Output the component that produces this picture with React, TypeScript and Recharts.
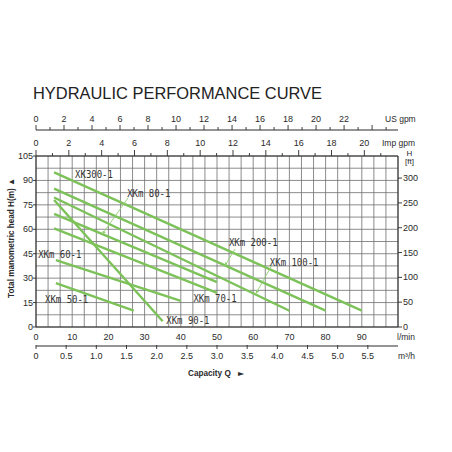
import React from 'react';
import { LineChart, Line, XAxis, YAxis, CartesianGrid, ReferenceLine, ReferenceDot } from 'recharts';

// ---- series (capacity Q in l/min, head H in m) ----
const seriesNames = ['XK300-1', 'XKm 200-1', 'XKm 100-1', 'XKm 90-1', 'XKm 80-1', 'XKm 70-1', 'XKm 60-1', 'XKm 50-1'];
const flowStart = [5, 5, 5, 5, 5, 5, 5.5, 5.5];
const headStart = [95, 85, 79.5, 78, 69.5, 60.5, 41, 27];
const flowEnd = [90, 80, 70, 35, 50, 50, 40, 27];
const headEnd = [10, 10, 10, 3.5, 27.5, 21, 16, 10];

// ---- series name annotations (data coords) ----
const labelQ = [10.8, 53.3, 64.6, 36, 25.2, 43.5, 0.6, 2.5];
const labelH = [93.4, 51.9, 39.9, 4, 81.9, 17.5, 44.6, 17];

// ---- leader lines ----
const leaderQ1 = [55, 65.1, 25.5];
const leaderH1 = [47.9, 37.7, 79.5];
const leaderQ2 = [52.2, 60.8, 18.4];
const leaderH2 = [37.7, 20.8, 57.2];

// ---- axes ----
const lminTicks = [0, 10, 20, 30, 40, 50, 60, 70, 80, 90];
const m3hTicks = [0, 0.5, 1, 1.5, 2, 2.5, 3, 3.5, 4, 4.5, 5, 5.5];
const usTicks = [0, 1, 2, 3, 4, 5, 6, 7, 8, 9, 10, 11, 12, 13, 14, 15, 16, 17, 18, 19, 20, 21, 22, 23, 24, 25];
const usLabelMax = 22;
const impTicks = [0, 1, 2, 3, 4, 5, 6, 7, 8, 9, 10, 11, 12, 13, 14, 15, 16, 17, 18, 19, 20, 21];
const impLabelMax = 20;
const headTicks = [0, 15, 30, 45, 60, 75, 90, 105];
const ftTicks = [0, 50, 100, 150, 200, 250, 300];
const gridQ = [0, 0.2, 0.4, 0.6, 0.8, 1, 1.2, 1.4, 1.6, 1.8, 2, 2.2, 2.4, 2.6, 2.8, 3, 3.2, 3.4, 3.6, 3.8, 4, 4.2, 4.4, 4.6, 4.8, 5, 5.2, 5.4, 5.6, 5.8, 6];
const gridH = [0, 7.5, 15, 22.5, 30, 37.5, 45, 52.5, 60, 67.5, 75, 82.5, 90, 97.5, 105];

const seriesData = seriesNames.map((_, i) => [
  { q: flowStart[i], h: headStart[i] },
  { q: flowEnd[i], h: headEnd[i] },
]);

const GREEN = '#7cc259';
const INK = '#2a2a2a';
const FONT = '"Liberation Sans", Arial, sans-serif';

const isMajor = (v: number, step: number) => Math.abs(v / step - Math.round(v / step)) < 1e-6;

const topTick = (step: number, labelMax: number, majorLen: number, minorLen: number, labelOff: number) => (p: any) => {
  const { x, y, payload } = p;
  const v = payload.value;
  const maj = isMajor(v, step);
  return (
    <g>
      <line x1={x} x2={x} y1={y} y2={y - (maj ? majorLen : minorLen)} stroke={INK} strokeWidth={0.9} />
      {maj && v <= labelMax && (
        <text x={x} y={y - labelOff} textAnchor="middle" dominantBaseline="central" fontSize={9} fontFamily={FONT} fill={INK}>
          {v}
        </text>
      )}
    </g>
  );
};

const LminTick = (p: any) => (
  <text x={p.x} y={p.y + 10} textAnchor="middle" dominantBaseline="central" fontSize={9} fontFamily={FONT} fill={INK}>
    {p.payload.value}
  </text>
);

const M3hTick = (p: any) => {
  const v = p.payload.value;
  return (
    <g>
      <line x1={p.x} x2={p.x} y1={p.y - 1} y2={p.y + 3} stroke={INK} strokeWidth={0.9} />
      <text x={p.x} y={p.y + 10} textAnchor="middle" dominantBaseline="central" fontSize={9} fontFamily={FONT} fill={INK}>
        {v === 0 ? '0' : v.toFixed(1)}
      </text>
    </g>
  );
};

const LeftTick = (p: any) => (
  <g>
    <line x1={p.x} x2={p.x - 3} y1={p.y} y2={p.y} stroke={INK} strokeWidth={0.9} />
    <text x={p.x - 3} y={p.y} textAnchor="end" dominantBaseline="central" fontSize={9} fontFamily={FONT} fill={INK}>
      {p.payload.value}
    </text>
  </g>
);

const RightTick = (p: any) => (
  <g>
    <line x1={p.x} x2={p.x + 4} y1={p.y} y2={p.y} stroke={INK} strokeWidth={0.9} />
    <text x={p.x + 5} y={p.y} textAnchor="start" dominantBaseline="central" fontSize={9} fontFamily={FONT} fill={INK}>
      {p.payload.value}
    </text>
  </g>
);

const nameLabel = (name: string) => (p: any) => {
  const vb = p.viewBox || {};
  const x = (vb.x ?? 0) + (vb.width ?? 0) / 2;
  const y = (vb.y ?? 0) + (vb.height ?? 0) / 2;
  return (
    <text
      x={x}
      y={y}
      dominantBaseline="central"
      fontSize={10}
      fontFamily='"DejaVu Sans Mono", monospace'
      fill="#333"
      textLength={name.length * 5.4}
      lengthAdjust="spacingAndGlyphs"
    >
      {name}
    </text>
  );
};

export default function App() {
  return (
    <div style={{ position: 'absolute', left: 0, top: 0, width: 452, height: 452, background: '#fff' }}>
      <svg width={0} height={0} style={{ position: 'absolute' }}>
        <defs>
          <marker id="leaderArrow" viewBox="0 0 6 6" refX="5" refY="3" markerWidth="4" markerHeight="4" orient="auto">
            <path d="M0,0 L6,3 L0,6 z" fill="#8fcf6f" />
          </marker>
        </defs>
      </svg>
      <LineChart width={452} height={452} data={seriesData[0]} margin={{ top: 110, right: 0, bottom: 86, left: 0 }}>
        <XAxis
          dataKey="q"
          type="number"
          domain={[0, 100]}
          allowDataOverflow
          ticks={lminTicks}
          interval={0}
          height={19}
          tickSize={0}
          tickMargin={0}
          tickLine={false}
          axisLine={{ stroke: INK, strokeWidth: 1 }}
          tick={LminTick}
        />
        <XAxis
          xAxisId="m3h"
          dataKey="q"
          type="number"
          domain={[0, 6]}
          allowDataOverflow
          ticks={m3hTicks}
          interval={0}
          height={20}
          tickSize={0}
          tickMargin={0}
          tickLine={false}
          axisLine={{ stroke: INK, strokeWidth: 1 }}
          tick={M3hTick}
        />
        <XAxis
          xAxisId="imp"
          dataKey="q"
          orientation="top"
          type="number"
          domain={[0, 22.05]}
          allowDataOverflow
          ticks={impTicks}
          interval={0}
          height={26}
          tickSize={0}
          tickMargin={0}
          tickLine={false}
          axisLine={{ stroke: INK, strokeWidth: 1 }}
          tick={topTick(2, impLabelMax, 6, 3, 12.7)}
        />
        <XAxis
          xAxisId="us"
          dataKey="q"
          orientation="top"
          type="number"
          domain={[0, 25.85]}
          allowDataOverflow
          ticks={usTicks}
          interval={0}
          height={20}
          tickSize={0}
          tickMargin={0}
          tickLine={false}
          axisLine={{ stroke: INK, strokeWidth: 1 }}
          tick={topTick(2, usLabelMax, 5, 3, 11)}
        />
        <XAxis xAxisId="grid" dataKey="q" type="number" domain={[0, 6]} allowDataOverflow ticks={gridQ} interval={0} height={0} hide />
        <YAxis yAxisId="grid" type="number" domain={[0, 105]} allowDataOverflow ticks={gridH} interval={0} width={0} hide />
        <YAxis
          type="number"
          domain={[0, 105]}
          allowDataOverflow
          ticks={headTicks}
          interval={0}
          width={36}
          tickSize={0}
          tickMargin={0}
          tickLine={false}
          axisLine={{ stroke: INK, strokeWidth: 1 }}
          tick={LeftTick}
        />
        <YAxis
          yAxisId="ft"
          orientation="right"
          type="number"
          domain={[0, 344.5]}
          allowDataOverflow
          ticks={ftTicks}
          interval={0}
          width={54}
          tickSize={0}
          tickMargin={0}
          tickLine={false}
          axisLine={{ stroke: INK, strokeWidth: 1 }}
          tick={RightTick}
        />

        <CartesianGrid xAxisId="grid" yAxisId="grid" stroke="#6f6f6f" strokeWidth={0.8} />

        {seriesNames.map((name, i) => (
          <Line
            key={name}
            name={name}
            data={seriesData[i]}
            dataKey="h"
            type="linear"
            stroke={GREEN}
            strokeWidth={2.4}
            dot={false}
            activeDot={false}
            isAnimationActive={false}
          />
        ))}

        {leaderQ1.map((q, i) => (
          <ReferenceLine
            key={'ld' + i}
            segment={[{ x: q, y: leaderH1[i] }, { x: leaderQ2[i], y: leaderH2[i] }]}
            stroke="#8fcf6f"
            strokeWidth={0.9}
            markerEnd="url(#leaderArrow)"
          />
        ))}

        {seriesNames.map((name, i) => (
          <ReferenceDot
            key={'lb' + i}
            x={labelQ[i]}
            y={labelH[i]}
            r={0}
            fill="none"
            stroke="none"
            label={nameLabel(name)}
          />
        ))}
      </LineChart>

      <svg width={452} height={452} style={{ position: 'absolute', left: 0, top: 0, pointerEvents: 'none' }}>
        <text x={33} y={99.3} fontSize={17} fontFamily={FONT} fill="#222" textLength={289} lengthAdjust="spacingAndGlyphs">
          HYDRAULIC PERFORMANCE CURVE
        </text>
        <text x={385} y={119} dominantBaseline="central" fontSize={8.5} fontFamily={FONT} fill={INK}>US gpm</text>
        <text x={382} y={142.7} dominantBaseline="central" fontSize={8.5} fontFamily={FONT} fill={INK}>Imp gpm</text>
        <text x={409.5} y={153} textAnchor="middle" dominantBaseline="central" fontSize={8} fontFamily={FONT} fill={INK}>H</text>
        <text x={409.5} y={161.5} textAnchor="middle" dominantBaseline="central" fontSize={8} fontFamily={FONT} fill={INK}>[ft]</text>
        <text x={397} y={337} dominantBaseline="central" fontSize={8.5} fontFamily={FONT} fill={INK}>l/min</text>
        <text x={398} y={356} dominantBaseline="central" fontSize={8.5} fontFamily={FONT} fill={INK}>m³/h</text>
        <text x={188} y={373} dominantBaseline="central" fontSize={8.2} fontWeight="bold" fontFamily={FONT} fill={INK}>Capacity Q</text>
        <text x={238} y={373} dominantBaseline="central" fontSize={8} fontFamily="DejaVu Sans" fill={INK}>►</text>
        <text
          transform="translate(11,238) rotate(-90)"
          x={0}
          y={0}
          textAnchor="middle"
          dominantBaseline="central"
          fontSize={8.5}
          fontWeight="bold"
          fontFamily={FONT}
          fill={INK}
          textLength={120}
          lengthAdjust="spacingAndGlyphs"
        >
          Total manometric head H(m) ▲
        </text>
      </svg>
    </div>
  );
}
